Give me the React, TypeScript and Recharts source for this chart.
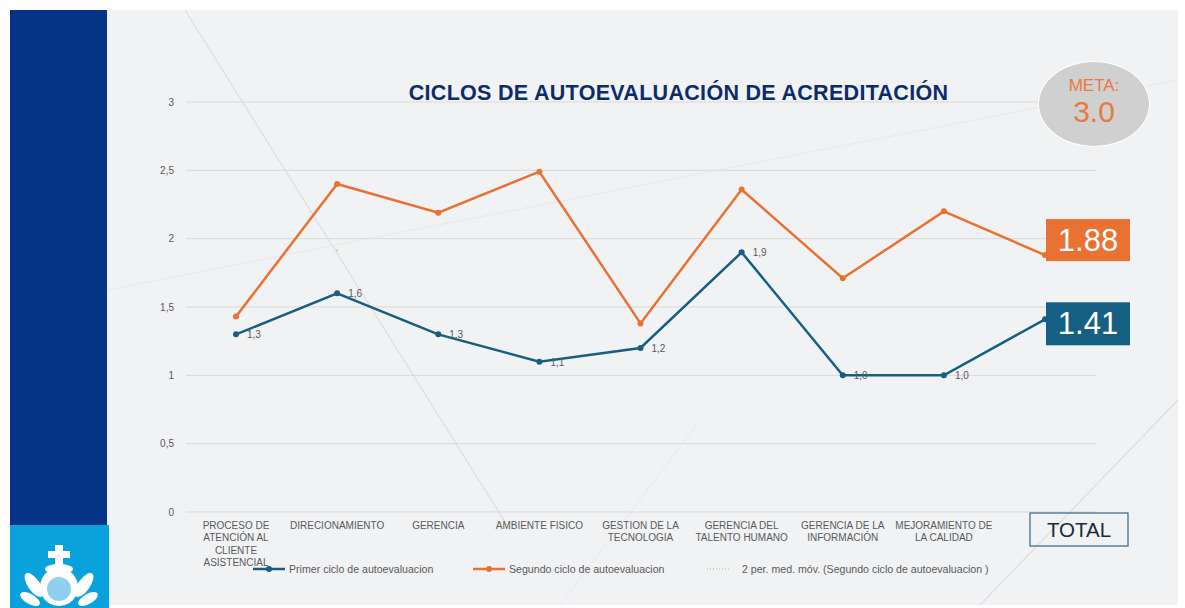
import { CartesianGrid, LabelList, Line, LineChart, XAxis, YAxis } from "recharts"

const categories = [
  "PROCESO DE ATENCIÓN AL CLIENTE ASISTENCIAL",
  "DIRECIONAMIENTO",
  "GERENCIA",
  "AMBIENTE FISICO",
  "GESTION DE LA TECNOLOGIA",
  "GERENCIA DEL TALENTO HUMANO",
  "GERENCIA DE LA INFORMACIÓN",
  "MEJORAMIENTO DE LA CALIDAD",
  "TOTAL",
]

const tickLines = [
  ["PROCESO DE", "ATENCIÓN AL", "CLIENTE", "ASISTENCIAL"],
  ["DIRECIONAMIENTO"],
  ["GERENCIA"],
  ["AMBIENTE FISICO"],
  ["GESTION DE LA", "TECNOLOGIA"],
  ["GERENCIA DEL", "TALENTO HUMANO"],
  ["GERENCIA DE LA", "INFORMACIÓN"],
  ["MEJORAMIENTO DE", "LA CALIDAD"],
  ["TOTAL"],
]

const primerCiclo = [1.3, 1.6, 1.3, 1.1, 1.2, 1.9, 1.0, 1.0, 1.41]
const segundoCiclo = [1.43, 2.4, 2.19, 2.49, 1.38, 2.36, 1.71, 2.2, 1.88]
const mediaMovil = [null, 1.915, null, null, null, null, null, null, null]

const yTicks = [0, 0.5, 1, 1.5, 2, 2.5, 3]
const meta = "3.0"

const data = categories.map((name, i) => ({
  name,
  primer: primerCiclo[i],
  segundo: segundoCiclo[i],
  movil: mediaMovil[i],
}))

const BLUE = "#156082"
const ORANGE = "#e97132"
const GRAY = "#595959"
const FONT = "'Liberation Sans', Arial, sans-serif"
const last = categories.length - 1

const CategoryTick = (props: any) => {
  const { x, y, index } = props
  const lines = tickLines[index] || []
  if (categories[index] === "TOTAL") {
    return (
      <g>
        <rect x={x - 15} y={y + 1} width={98} height={33} fill="none" stroke="#44718f" strokeWidth={1.3} />
        <text x={x + 34} y={y + 25} textAnchor="middle" fontSize={20.5} fill="#1b2a3a" fontFamily={FONT}>
          TOTAL
        </text>
      </g>
    )
  }
  return (
    <text x={x} y={y} textAnchor="middle" fontSize={10} fill={GRAY} fontFamily={FONT}>
      {lines.map((l, k) => (
        <tspan key={k} x={x} dy={k === 0 ? 17 : 12.4}>
          {l}
        </tspan>
      ))}
    </text>
  )
}

const PrimerLabel = (props: any) => {
  const { x, y, index, value } = props
  if (index === last) {
    return (
      <g>
        <rect x={x + 1} y={y - 17} width={84} height={43} fill={BLUE} />
        <text x={x + 43} y={y + 15} textAnchor="middle" fontSize={31} fill="#fff" fontFamily={FONT}>
          {Number(value).toFixed(2)}
        </text>
      </g>
    )
  }
  return (
    <text x={x + 11} y={y + 4} fontSize={10} fill={GRAY} fontFamily={FONT}>
      {Number(value).toFixed(1).replace(".", ",")}
    </text>
  )
}

const SegundoLabel = (props: any) => {
  const { x, y, index, value } = props
  if (index !== last) return null
  return (
    <g>
      <rect x={x + 1} y={y - 36} width={84} height={42} fill={ORANGE} />
      <text x={x + 43} y={y - 4} textAnchor="middle" fontSize={31} fill="#fff" fontFamily={FONT}>
        {Number(value).toFixed(2)}
      </text>
    </g>
  )
}

const legendItems = [
  { label: "Primer ciclo de autoevaluacion", color: BLUE, left: 253, dotted: false },
  { label: "Segundo ciclo de autoevaluacion", color: ORANGE, left: 473, dotted: false },
  { label: "2 per. med. móv. (Segundo ciclo de autoevaluacion )", color: "#9dc3a0", left: 707, dotted: true },
]

export default function App() {
  return (
    <div style={{ position: "absolute", left: 0, top: 0, width: 1185, height: 608, background: "#fff", overflow: "hidden", fontFamily: FONT }}>
      <div style={{ position: "absolute", left: 107, top: 10, width: 1071, height: 595, background: "#f1f2f4" }} />
      <svg style={{ position: "absolute", left: 0, top: 0 }} width={1185} height={608}>
        <line x1={185} y1={10} x2={510} y2={530} stroke="#dcdee1" strokeWidth={1.2} />
        <line x1={107} y1={290} x2={1178} y2={80} stroke="#e6e8eb" strokeWidth={1} />
        <line x1={980} y1={605} x2={1178} y2={400} stroke="#dcdee1" strokeWidth={1.2} />
        <line x1={560} y1={605} x2={700} y2={420} stroke="#e6e8eb" strokeWidth={1} />
      </svg>
      <div style={{ position: "absolute", left: 10, top: 10, width: 97, height: 515, background: "#053385" }} />
      <div style={{ position: "absolute", left: 10, top: 525, width: 99, height: 83, background: "#0aa2dd" }} />
      <svg style={{ position: "absolute", left: 10, top: 525 }} width={99} height={83}>
        <g fill="#fff">
          <rect x={45} y={20} width={8} height={22} />
          <rect x={38} y={26} width={22} height={7} />
          <ellipse cx={49} cy={44} rx={14} ry={5} />
          <circle cx={49} cy={62} r={19} />
          <ellipse cx={24} cy={60} rx={6} ry={14} transform="rotate(-35 24 60)" />
          <ellipse cx={74} cy={60} rx={6} ry={14} transform="rotate(35 74 60)" />
          <ellipse cx={20} cy={74} rx={5} ry={11} transform="rotate(-60 20 74)" />
          <ellipse cx={78} cy={74} rx={5} ry={11} transform="rotate(60 78 74)" />
        </g>
        <circle cx={49} cy={64} r={12} fill="#8fd0ee" />
      </svg>
      <div style={{ position: "absolute", left: 0, top: 0 }}>
        <LineChart width={1185} height={608} data={data} margin={{ top: 102, right: 89, bottom: 36, left: 148 }}>
          <CartesianGrid vertical={false} stroke="#d9d9d9" />
          <XAxis
            dataKey="name"
            axisLine={false}
            tickLine={false}
            tickSize={0}
            tickMargin={0}
            height={60}
            interval={0}
            padding={{ left: 50, right: 51 }}
            tick={<CategoryTick />}
          />
          <YAxis
            domain={[0, 3]}
            ticks={yTicks}
            width={38}
            axisLine={false}
            tickLine={false}
            tickMargin={6}
            tick={{ fontSize: 10, fill: GRAY, fontFamily: FONT }}
            tickFormatter={(v) => String(v).replace(".", ",")}
          />
          <Line
            dataKey="segundo"
            stroke={ORANGE}
            strokeWidth={2.5}
            dot={{ r: 3, fill: ORANGE, stroke: ORANGE, strokeWidth: 0 }}
            isAnimationActive={false}
          >
            <LabelList dataKey="segundo" content={<SegundoLabel />} />
          </Line>
          <Line
            dataKey="primer"
            stroke={BLUE}
            strokeWidth={2.5}
            dot={{ r: 3, fill: BLUE, stroke: BLUE, strokeWidth: 0 }}
            isAnimationActive={false}
          >
            <LabelList dataKey="primer" content={<PrimerLabel />} />
          </Line>
          <Line
            dataKey="movil"
            stroke="#70ad47"
            strokeDasharray="1 2"
            strokeWidth={1}
            dot={{ r: 0.7, fill: "#70ad47", stroke: "none" }}
            isAnimationActive={false}
          />
        </LineChart>
      </div>
      <div
        style={{
          position: "absolute",
          left: 0,
          top: 81,
          width: 1357,
          textAlign: "center",
          fontSize: 21.5,
          fontWeight: 700,
          color: "#0d2b6b",
          letterSpacing: 0.3,
        }}
      >
        CICLOS DE AUTOEVALUACIÓN DE ACREDITACIÓN
      </div>
      <div
        style={{
          position: "absolute",
          left: 1038,
          top: 61,
          width: 112,
          height: 86,
          borderRadius: "50%",
          background: "#d0d0d0",
          border: "1.5px solid #fff",
          boxSizing: "border-box",
          color: "#ea7a3c",
          textAlign: "center",
        }}
      >
        <div style={{ fontSize: 17, marginTop: 15, lineHeight: "18px" }}>META:</div>
        <div style={{ fontSize: 30, lineHeight: "34px" }}>{meta}</div>
      </div>
      {legendItems.map((it) => (
        <div key={it.label} style={{ position: "absolute", left: it.left, top: 562, height: 14, display: "flex", alignItems: "center", fontSize: 10.6, color: GRAY }}>
          <svg width={34} height={10}>
            {it.dotted ? (
              <line x1={0} y1={5} x2={24} y2={5} stroke={it.color} strokeWidth={1} strokeDasharray="1 2" />
            ) : (
              <>
                <line x1={0} y1={5} x2={32} y2={5} stroke={it.color} strokeWidth={2.5} />
                <circle cx={16} cy={5} r={3} fill={it.color} />
              </>
            )}
          </svg>
          <span style={{ marginLeft: it.dotted ? 1 : 2 }}>{it.label}</span>
        </div>
      ))}
    </div>
  )
}
